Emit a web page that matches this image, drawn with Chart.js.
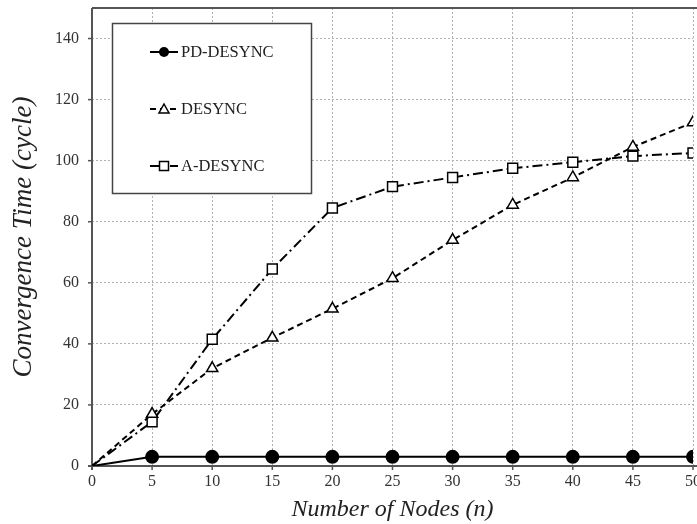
<!DOCTYPE html>
<html><head><meta charset="utf-8">
<script src="https://cdn.jsdelivr.net/npm/chart.js@4/dist/chart.umd.min.js"></script>
<style>html,body{margin:0;padding:0;background:#fff;overflow:hidden}#wrap{width:697px;height:524px}</style>
</head><body><div id="wrap"><canvas id="c" width="697" height="524"></canvas></div>
<script>
const nodes = [0,5,10,15,20,25,30,35,40,45,50];
const pdDesync = [0,3,3,3,3,3,3,3,3,3,3];
const desync = [0,17,32,42,51.5,61.5,74,85.5,94.5,104.5,112.5];
const aDesync = [0,14.5,41.5,64.5,84.5,91.5,94.5,97.5,99.5,101.5,102.5];
const seriesNames = ['PD-DESYNC','DESYNC','A-DESYNC'];
const yTicks = [0,20,40,60,80,100,120,140];

const pts = arr => nodes.map((n,i)=>({x:n,y:arr[i]}));
const r0 = r => ctx => ctx.dataIndex===0 ? 0 : r;

const framePlugin = {
  id:'frame',
  beforeDatasetsDraw(chart){
    const c=chart.ctx, a=chart.chartArea;
    c.save();
    c.strokeStyle='#555'; c.lineWidth=2; c.setLineDash([]);
    c.beginPath(); c.moveTo(a.left,a.top); c.lineTo(a.right+10,a.top);
    c.moveTo(a.left,a.top); c.lineTo(a.left,a.bottom+4);
    c.moveTo(a.left-4,a.bottom); c.lineTo(a.right+10,a.bottom); c.stroke();
    c.lineWidth=1.5;
    const ys2=chart.scales.y;
    yTicks.forEach(v=>{const yy=ys2.getPixelForValue(v);c.beginPath();c.moveTo(a.left-4,yy);c.lineTo(a.left,yy);c.stroke();});
    const xs=chart.scales.x;
    nodes.forEach(v=>{const xx=xs.getPixelForValue(v);c.beginPath();c.moveTo(xx,a.bottom);c.lineTo(xx,a.bottom+4);c.stroke();});
    c.restore();
  }
};

const legendPlugin = {
  id:'boxLegend',
  afterDraw(chart){
    const c = chart.ctx;
    c.save();
    c.strokeStyle='#444'; c.lineWidth=1.5; c.fillStyle='#fff';
    c.fillRect(112,23,199,170); c.strokeRect(112.5,23.5,199,170);
    const ys=[52,109,166];
    chart.data.datasets.forEach((ds,i)=>{
      const y=ys[i];
      c.strokeStyle='#000'; c.lineWidth=2; c.setLineDash(ds.borderDash||[]);
      c.beginPath(); c.moveTo(150,y); c.lineTo(178,y); c.stroke(); c.setLineDash([]);
      c.fillStyle = ds.pointBackgroundColor; c.lineWidth=1.5;
      c.beginPath();
      if(ds.pointStyle==='circle'){c.arc(164,y,5,0,Math.PI*2);c.fill();}
      else if(ds.pointStyle==='triangle'){c.moveTo(164,y-5);c.lineTo(169,y+4);c.lineTo(159,y+4);c.closePath();c.fill();c.stroke();}
      else {c.rect(159.5,y-4.5,9,9);c.fill();c.stroke();}
      c.fillStyle='#222'; c.font='16.5px "Liberation Serif"'; c.textBaseline='middle';
      c.fillText(ds.label,181,y+1);
    });
    c.restore();
  }
};

const zeroPad = s => { s.paddingTop=0; s.paddingBottom=0; s.paddingLeft=0; s.paddingRight=0; };

new Chart(document.getElementById('c'),{
  type:'line',
  data:{datasets:[
    {label:seriesNames[0],data:pts(pdDesync),borderColor:'#000',borderWidth:2,pointStyle:'circle',pointRadius:r0(6),pointBackgroundColor:'#000',pointBorderColor:'#000',tension:0},
    {label:seriesNames[1],data:pts(desync),borderColor:'#000',borderWidth:2,borderDash:[6,4],pointStyle:'triangle',pointRadius:r0(6.5),pointBackgroundColor:'#fff',pointBorderColor:'#000',pointBorderWidth:1.5,tension:0},
    {label:seriesNames[2],data:pts(aDesync),borderColor:'#000',borderWidth:2,borderDash:[10,4,2,4],pointStyle:'rect',pointRadius:r0(7),pointBackgroundColor:'#fff',pointBorderColor:'#000',pointBorderWidth:1.5,tension:0}
  ]},
  options:{
    responsive:false,animation:false,
    layout:{autoPadding:false,padding:{top:8,right:4,left:0,bottom:0}},
    plugins:{legend:{display:false},tooltip:{enabled:false}},
    scales:{
      x:{type:'linear',min:0,max:50,
        afterFit(s){s.height=58;zeroPad(s);},
        ticks:{stepSize:5,color:'#333',font:{family:'Liberation Serif',size:16},padding:6},
        grid:{color:'#b0b0b0',lineWidth:1,drawTicks:false},
        border:{display:false,dash:[2,2]},
        title:{display:true,text:'Number of Nodes (n)',color:'#222',font:{family:'Liberation Serif',size:24,style:'italic'},padding:{top:4,bottom:0}}
      },
      y:{min:0,max:150,
        afterFit(s){s.width=92;zeroPad(s);},
        afterBuildTicks(s){s.ticks=yTicks.map(v=>({value:v}));},
        ticks:{color:'#333',font:{family:'Liberation Serif',size:16},padding:13},
        grid:{color:'#b0b0b0',lineWidth:1,drawTicks:false},
        border:{display:false,dash:[2,2]},
        title:{display:true,text:'Convergence Time (cycle)',color:'#222',font:{family:'Liberation Serif',size:27,style:'italic'},padding:{top:8,bottom:4}}
      }
    }
  },
  plugins:[framePlugin,legendPlugin]
});
</script></body></html>
